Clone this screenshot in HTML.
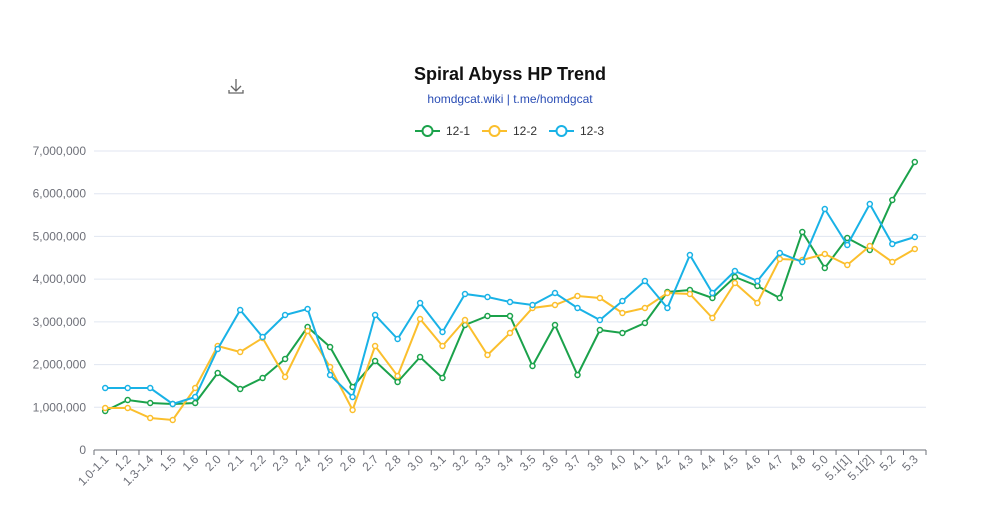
<!DOCTYPE html>
<html><head><meta charset="utf-8"><style>
body{margin:0;background:#fff;}
svg text{font-family:"Liberation Sans",sans-serif;}
</style></head><body>
<svg id="c" width="987" height="517" xmlns="http://www.w3.org/2000/svg">
<text x="510" y="80" text-anchor="middle" font-size="18" font-weight="bold" fill="#111">Spiral Abyss HP Trend</text>
<text x="510" y="103" text-anchor="middle" font-size="12" fill="#2a4db5">homdgcat.wiki | t.me/homdgcat</text>
<g stroke="#666" fill="none" stroke-width="1.3"><path d="M236 79v11M231 86l5 5 5-5M229 90v3h14v-3"/></g>
<g id="legend" font-size="12" fill="#333">
<line x1="415" y1="131" x2="440" y2="131" stroke="#1ba24b" stroke-width="2"/><circle cx="427.5" cy="131" r="5" fill="#fff" stroke="#1ba24b" stroke-width="2"/><text x="446" y="135">12-1</text>
<line x1="482" y1="131" x2="507" y2="131" stroke="#fbbf2d" stroke-width="2"/><circle cx="494.5" cy="131" r="5" fill="#fff" stroke="#fbbf2d" stroke-width="2"/><text x="513" y="135">12-2</text>
<line x1="549" y1="131" x2="574" y2="131" stroke="#19b2e6" stroke-width="2"/><circle cx="561.5" cy="131" r="5" fill="#fff" stroke="#19b2e6" stroke-width="2"/><text x="580" y="135">12-3</text>
</g>
<g id="g"></g>
</svg>
<script>
var g=document.getElementById('g'),h='';
var x0=94,x1=926,y0=450,step=299/7;
for(var i=0;i<=7;i++){var y=y0-i*step;
 if(i>0)h+='<line x1="'+x0+'" x2="'+x1+'" y1="'+y+'" y2="'+y+'" stroke="#e0e6f1"/>';
 h+='<text x="86" y="'+(y+4)+'" text-anchor="end" font-size="12" fill="#6e7079">'+(i==0?'0':i+',000,000')+'</text>';}
h+='<line x1="'+x0+'" x2="'+x1+'" y1="450" y2="450" stroke="#6e7079"/>';
var L=["1.0-1.1","1.2","1.3-1.4","1.5","1.6","2.0","2.1","2.2","2.3","2.4","2.5","2.6","2.7","2.8","3.0","3.1","3.2","3.3","3.4","3.5","3.6","3.7","3.8","4.0","4.1","4.2","4.3","4.4","4.5","4.6","4.7","4.8","5.0","5.1[1]","5.1[2]","5.2","5.3"];
var bw=(x1-x0)/37;
for(var i=0;i<=37;i++){var x=x0+i*bw;h+='<line x1="'+x+'" x2="'+x+'" y1="450" y2="455" stroke="#6e7079"/>';}
L.forEach(function(l,i){var x=x0+(i+0.5)*bw;h+='<text transform="translate('+(x+4)+',460) rotate(-45)" text-anchor="end" font-size="12" fill="#6e7079">'+l+'</text>';});
var S=[["#1ba24b",[411,400,403,404,403,373,389,378,359,327,347,387,361,382,357,378,325,316,316,366,325,375,330,333,323,292,290,298,277,286,298,232,268,238,250,200,162]],
["#fbbf2d",[408,408,418,420,388,346,352,338,377,331,367,410,346,376,319,346,320,355,333,308,305,296,298,313,308,293,294,318,283,303,259,260,254,265,246,262,249]],
["#19b2e6",[388,388,388,404,397,349,310,337,315,309,375,397,315,339,303,332,294,297,302,305,293,308,320,301,281,308,255,293,271,281,253,262,209,245,204,244,237]]];
S.forEach(function(s){var p=s[1].map(function(y,i){return (x0+(i+0.5)*bw).toFixed(1)+','+y;});
 h+='<polyline points="'+p.join(' ')+'" fill="none" stroke="'+s[0]+'" stroke-width="2"/>';
 p.forEach(function(q){var a=q.split(',');h+='<circle cx="'+a[0]+'" cy="'+a[1]+'" r="2.5" fill="#fff" stroke="'+s[0]+'" stroke-width="1.5"/>';});});
g.innerHTML=h;
</script>
</body></html>
